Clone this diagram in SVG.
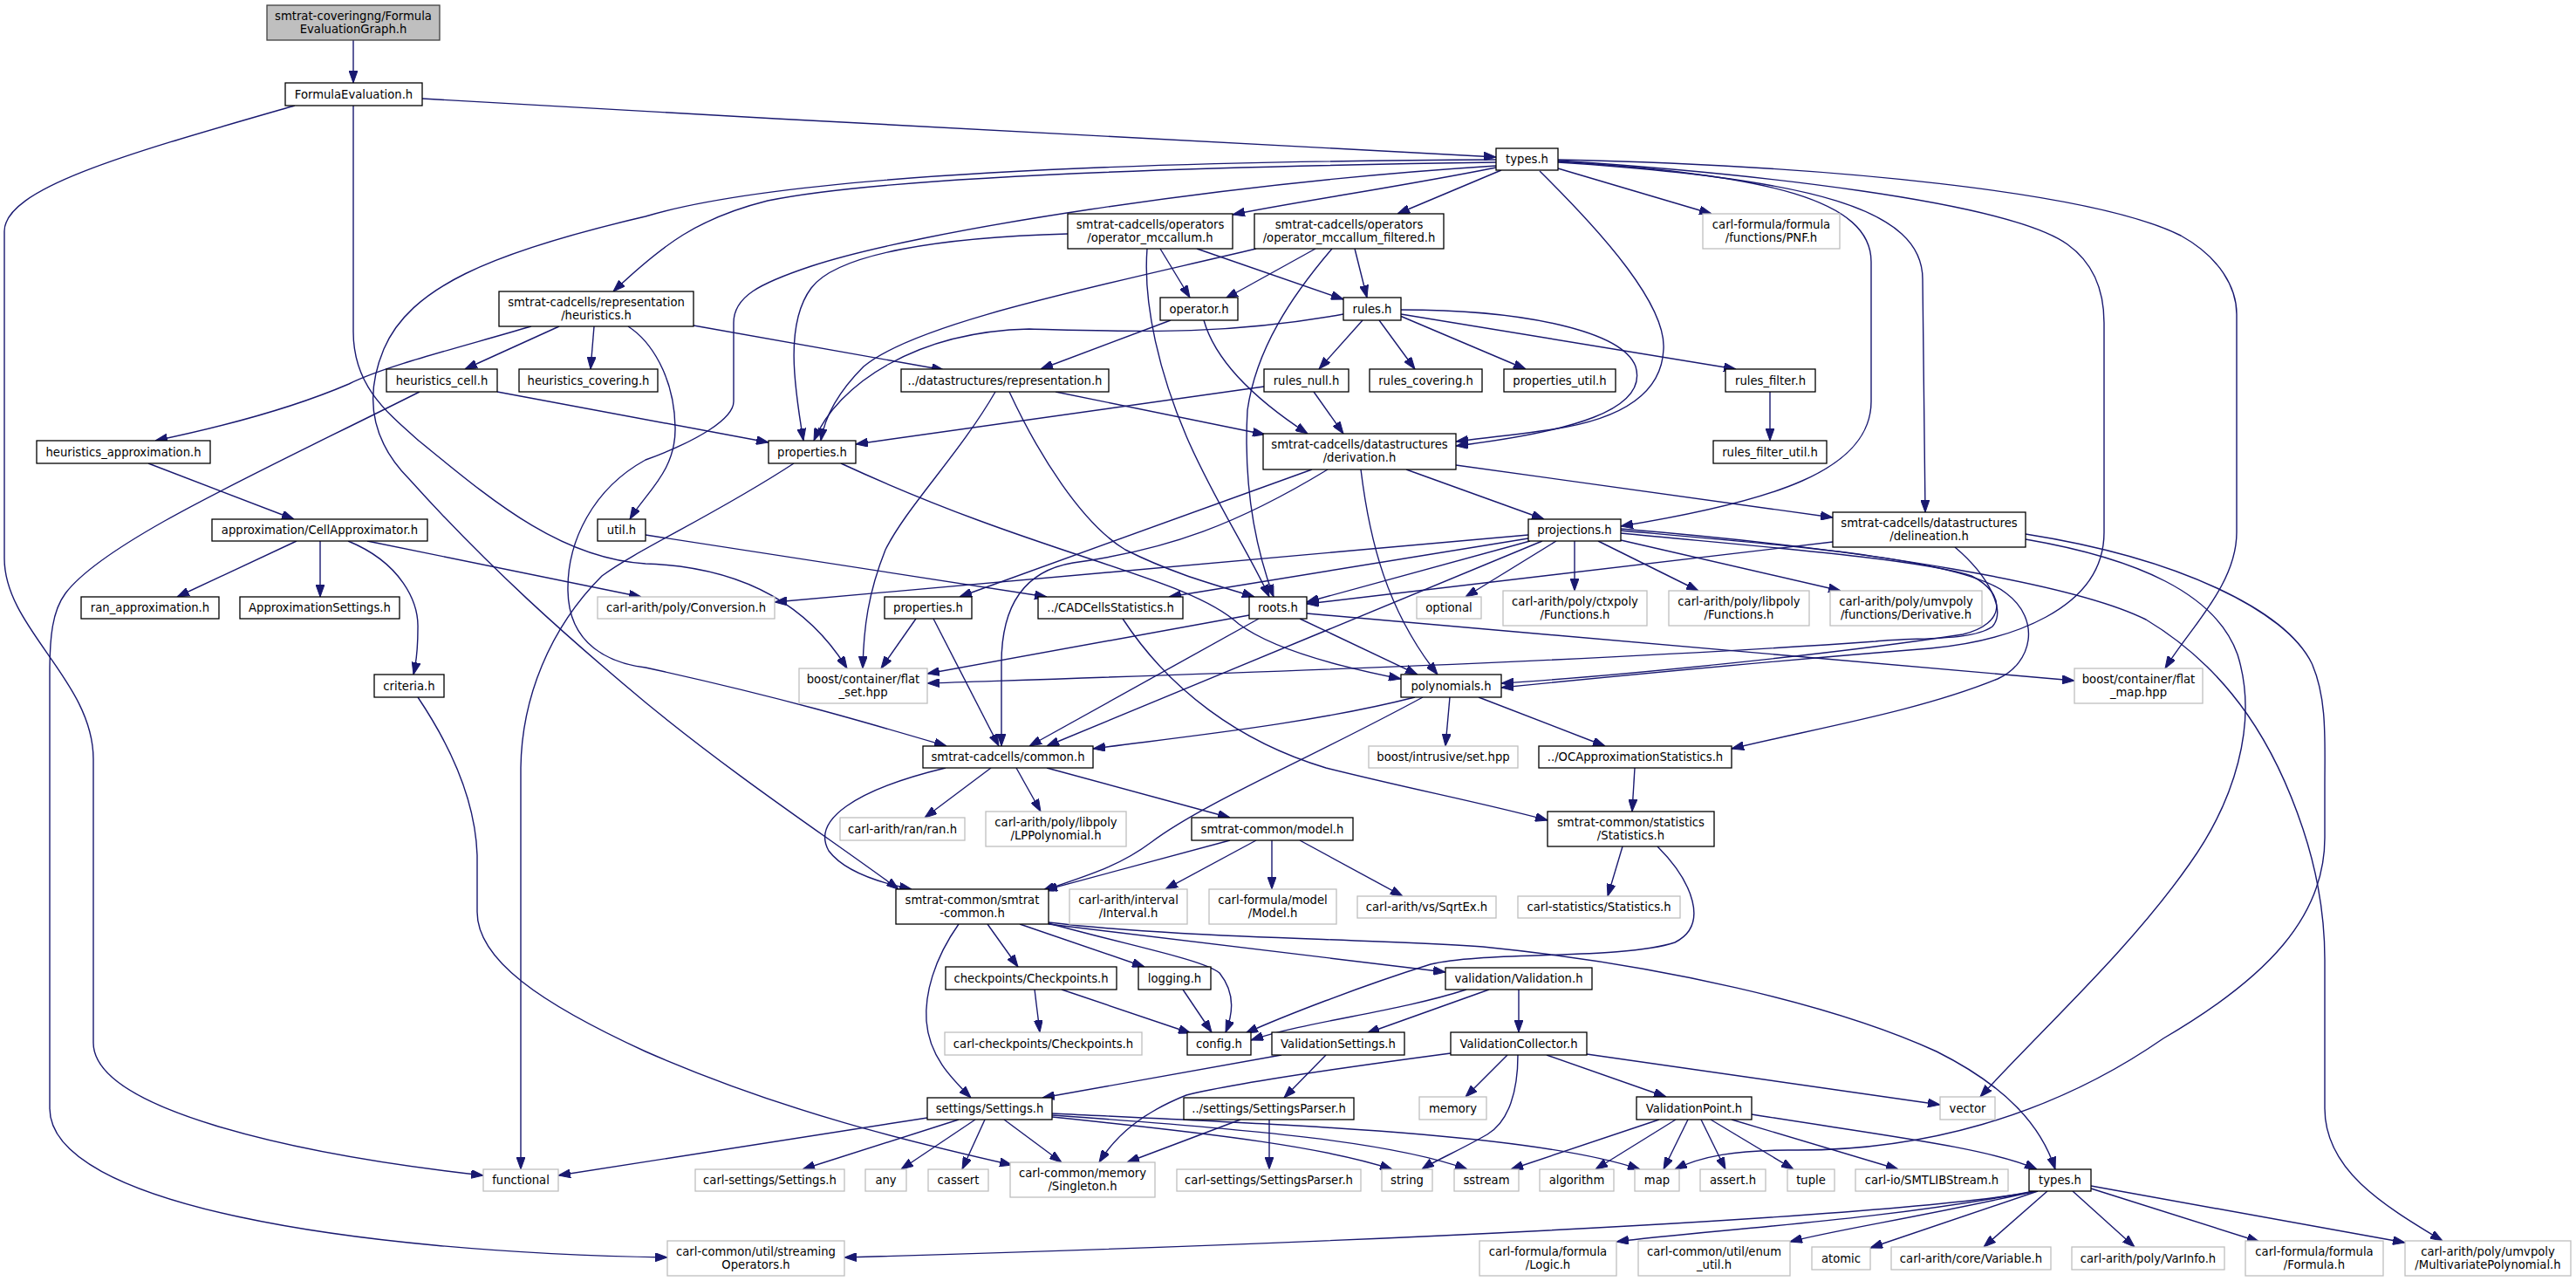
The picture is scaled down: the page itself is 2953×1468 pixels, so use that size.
<svg xmlns="http://www.w3.org/2000/svg" width="2953" height="1468" viewBox="0 0 2953 1468">
<defs>
<marker id="ah" markerWidth="14" markerHeight="10" refX="14" refY="5" orient="auto" markerUnits="userSpaceOnUse"><path d="M0,0 L14,5 L0,10 z" fill="#191970" stroke="#191970" stroke-width="1"/></marker>
<style>
.d{fill:#fff;stroke:#000;stroke-width:1.3}
.x{fill:#fff;stroke:#bfbfbf;stroke-width:1.3}
.r{fill:#bfbfbf;stroke:#404040;stroke-width:1.3}
text{font-family:"DejaVu Sans","Liberation Sans",sans-serif;font-size:13.2px;text-anchor:middle;fill:#000}
#edges path{fill:none;stroke:#191970;stroke-width:1.4;marker-end:url(#ah)}
</style>
</defs>
<rect width="2953" height="1468" fill="#fff"/>
<g id="edges">
<path d="M405,46 L405,95"/>
<path d="M484,113 C900,138 1400,162 1715,180"/>
<path d="M338,121 C150,175 5,215 5,265 L5,640 C5,720 107,780 107,870 L107,1195 C107,1270 330,1322 554,1347"/>
<path d="M405,121 L405,380 C405,440 440,470 480,505 C560,570 640,640 740,646 C860,650 930,700 971,766"/>
<path d="M1715,192 C1600,215 1480,232 1413,246"/>
<path d="M1715,186 C1300,192 1000,205 880,230 C800,250 760,280 703,334"/>
<path d="M1715,183 C1300,185 900,200 740,248 C560,290 470,330 440,400 C415,460 430,510 470,550 C560,650 650,730 740,805 C850,895 950,960 1030,1019"/>
<path d="M1715,190 C1400,210 1050,265 930,305 C870,325 841,340 841,370 L841,460 C841,480 800,505 740,527 C680,560 650,620 651,677 C652,740 700,760 740,765 C900,800 1000,830 1085,855"/>
<path d="M1721,195 L1602,245"/>
<path d="M1786,193 L1962,245"/>
<path d="M1765,196 C1840,270 1910,350 1907,400 C1905,450 1860,480 1780,492 C1740,498 1700,502 1669,506"/>
<path d="M1606,355 C1750,355 1860,380 1875,420 C1890,470 1800,495 1669,511"/>
<path d="M1786,183 C2100,190 2400,220 2500,270 C2545,295 2564,330 2564,360 L2564,610 C2564,670 2510,720 2482,766"/>
<path d="M1786,184 C2000,198 2300,230 2370,280 C2405,305 2412,340 2412,370 L2412,610 C2412,700 2300,735 2213,743 C2000,760 1850,775 1721,788"/>
<path d="M1786,185 C2030,200 2145,230 2145,300 L2145,460 C2145,540 2030,575 1858,603"/>
<path d="M1786,186 C2080,205 2204,240 2204,320 L2207,587"/>
<path d="M1330,285 L1364,341"/>
<path d="M1372,285 L1540,343"/>
<path d="M1224,268 C1080,272 960,290 930,330 C900,370 910,440 921,505"/>
<path d="M1315,285 C1310,350 1330,430 1360,500 C1390,570 1430,630 1455,684"/>
<path d="M1508,285 L1405,342"/>
<path d="M1553,285 L1567,341"/>
<path d="M1440,285 C1250,330 1050,370 990,420 C960,450 945,480 941,505"/>
<path d="M1527,285 C1480,340 1440,400 1430,470 C1425,560 1440,630 1460,684"/>
<path d="M1342,367 L1193,423"/>
<path d="M1380,367 C1395,420 1450,465 1499,497"/>
<path d="M1562,367 L1512,423"/>
<path d="M1581,367 L1622,423"/>
<path d="M1605,362 L1749,423"/>
<path d="M1606,360 L1990,423"/>
<path d="M1540,360 C1400,385 1300,380 1180,377 C1050,380 960,440 933,505"/>
<path d="M1449,443 L981,509"/>
<path d="M1506,449 L1540,497"/>
<path d="M2029,449 L2029,505"/>
<path d="M1210,449 L1450,498"/>
<path d="M1157,449 C1190,520 1240,600 1290,630 C1350,660 1400,672 1438,684"/>
<path d="M1141,449 C1100,520 1040,580 1015,630 C995,680 990,720 989,766"/>
<path d="M609,374 C520,400 440,420 400,440 C330,470 250,490 178,505"/>
<path d="M641,374 L533,423"/>
<path d="M681,374 L677,423"/>
<path d="M795,373 L1082,424"/>
<path d="M720,374 C745,390 773,430 774,490 C775,540 740,565 722,595"/>
<path d="M570,449 L881,507"/>
<path d="M481,449 C300,540 120,620 75,680 C60,700 57,730 57,770 L57,1270 C57,1380 400,1435 765,1441"/>
<path d="M170,531 L337,595"/>
<path d="M340,620 L203,684"/>
<path d="M367,620 L367,684"/>
<path d="M399,620 C460,645 480,690 479,720 C479,745 477,760 474,773"/>
<path d="M421,620 L735,684"/>
<path d="M740,613 L1200,684"/>
<path d="M910,531 C820,590 730,630 690,660 C630,720 598,800 597,880 L597,1340"/>
<path d="M964,531 C1200,640 1360,660 1420,715 C1460,745 1540,765 1606,778"/>
<path d="M1612,538 L1770,595"/>
<path d="M1669,533 L2101,593"/>
<path d="M1560,538 C1570,620 1590,700 1648,773"/>
<path d="M1504,538 L1100,684"/>
<path d="M1522,538 C1420,600 1340,630 1230,645 C1170,655 1148,700 1148,760 L1148,855"/>
<path d="M1754,620 L1498,690"/>
<path d="M1752,613 L888,690"/>
<path d="M1752,617 L1340,684"/>
<path d="M1768,620 L1200,855"/>
<path d="M1784,620 L1680,684"/>
<path d="M1805,620 L1805,677"/>
<path d="M1832,620 L1947,677"/>
<path d="M1858,619 L2110,677"/>
<path d="M1858,611 C2000,625 2200,640 2260,660 C2300,680 2300,715 2250,727 C2100,750 1850,775 1721,783"/>
<path d="M1858,608 C2050,625 2250,640 2300,680 C2340,710 2330,760 2290,778 C2200,815 2080,835 1985,858"/>
<path d="M1858,606 C2150,630 2380,670 2460,710 C2560,770 2610,860 2640,950 C2660,1010 2665,1060 2665,1100 L2665,1270 C2665,1340 2730,1380 2800,1422"/>
<path d="M2241,627 C2280,660 2300,700 2284,718 C2260,735 2200,730 2150,735 C1800,760 1300,775 1063,783"/>
<path d="M2101,621 L1498,692"/>
<path d="M2322,618 C2450,640 2540,680 2565,750 C2590,830 2560,920 2510,990 C2440,1090 2340,1180 2270,1257"/>
<path d="M2322,612 C2500,640 2620,700 2650,760 C2668,800 2665,850 2665,900 L2665,960 C2665,1050 2600,1120 2480,1190 C2350,1280 2200,1320 2050,1318 C1990,1318 1950,1325 1920,1340"/>
<path d="M1432,705 L1063,772"/>
<path d="M1443,709 L1180,855"/>
<path d="M1490,709 L1625,773"/>
<path d="M1498,703 L2378,780"/>
<path d="M1050,709 L1010,766"/>
<path d="M1070,709 L1145,855"/>
<path d="M1287,709 C1340,790 1420,850 1520,880 C1620,905 1700,920 1774,940"/>
<path d="M1662,799 L1657,855"/>
<path d="M1695,799 L1840,855"/>
<path d="M1622,799 C1500,830 1350,845 1253,858"/>
<path d="M1631,799 C1500,870 1380,920 1320,965 C1280,995 1240,1005 1195,1021"/>
<path d="M1136,880 L1060,937"/>
<path d="M1165,880 L1193,930"/>
<path d="M1200,880 L1410,937"/>
<path d="M1084,880 C980,905 930,940 950,975 C965,995 1000,1010 1045,1019"/>
<path d="M1410,963 L1198,1020"/>
<path d="M1440,963 L1336,1019"/>
<path d="M1458,963 L1458,1019"/>
<path d="M1490,963 L1608,1027"/>
<path d="M1874,880 L1871,930"/>
<path d="M1860,970 L1843,1027"/>
<path d="M1900,970 C1940,1010 1960,1060 1920,1080 C1860,1100 1700,1090 1640,1105 C1560,1130 1470,1165 1428,1184"/>
<path d="M1099,1059 C1070,1100 1060,1140 1062,1170 C1065,1210 1090,1235 1113,1258"/>
<path d="M1132,1059 L1167,1108"/>
<path d="M1169,1059 L1312,1108"/>
<path d="M1202,1058 C1300,1085 1380,1100 1398,1115 C1418,1140 1412,1165 1405,1183"/>
<path d="M1202,1059 L1657,1114"/>
<path d="M1202,1057 C1350,1075 1550,1075 1700,1085 C1900,1105 2100,1150 2220,1205 C2300,1245 2340,1290 2356,1340"/>
<path d="M1186,1134 L1192,1183"/>
<path d="M1217,1134 L1365,1184"/>
<path d="M1356,1134 L1389,1183"/>
<path d="M1681,1134 C1600,1160 1500,1170 1434,1192"/>
<path d="M1707,1134 L1567,1184"/>
<path d="M1741,1134 L1741,1183"/>
<path d="M1469,1209 L1195,1258"/>
<path d="M1520,1209 L1472,1258"/>
<path d="M1663,1207 C1550,1222 1420,1240 1360,1255 C1310,1275 1280,1300 1260,1332"/>
<path d="M1728,1209 L1680,1257"/>
<path d="M1740,1209 C1740,1250 1730,1285 1705,1300 C1670,1320 1645,1330 1630,1340"/>
<path d="M1773,1209 L1910,1257"/>
<path d="M1819,1208 L2224,1266"/>
<path d="M1902,1283 L1732,1340"/>
<path d="M1921,1283 L1829,1340"/>
<path d="M1935,1283 L1907,1340"/>
<path d="M1950,1283 L1978,1340"/>
<path d="M1961,1283 L2056,1340"/>
<path d="M1985,1283 L2176,1340"/>
<path d="M2008,1277 C2150,1300 2280,1315 2335,1340"/>
<path d="M1063,1281 L640,1347"/>
<path d="M1099,1283 L920,1340"/>
<path d="M1118,1283 L1033,1340"/>
<path d="M1129,1283 L1103,1340"/>
<path d="M1151,1283 L1217,1332"/>
<path d="M1206,1280 C1400,1300 1520,1315 1596,1340"/>
<path d="M1206,1278 C1450,1295 1600,1310 1682,1340"/>
<path d="M1206,1276 C1500,1290 1760,1300 1880,1340"/>
<path d="M1422,1283 L1292,1332"/>
<path d="M1455,1283 L1455,1340"/>
<path d="M479,799 C520,860 545,920 547,980 L547,1045 C547,1100 620,1150 740,1205 C900,1275 1050,1310 1160,1335"/>
<path d="M2336,1365 C2200,1390 1700,1420 968,1441"/>
<path d="M2332,1365 C2150,1400 1950,1410 1853,1423"/>
<path d="M2334,1365 C2200,1395 2100,1410 2052,1423"/>
<path d="M2336,1365 L2144,1430"/>
<path d="M2347,1365 L2274,1429"/>
<path d="M2376,1365 L2447,1429"/>
<path d="M2397,1362 L2590,1423"/>
<path d="M2397,1359 L2757,1424"/>
</g>
<g id="n1"><rect class="r" x="306" y="6" width="198" height="40"/><text x="405" y="22.5">smtrat-coveringng/Formula</text><text x="405" y="37.5">EvaluationGraph.h</text></g>
<g id="n2"><rect class="d" x="327" y="95" width="157" height="26"/><text x="405.5" y="112.8">FormulaEvaluation.h</text></g>
<g id="n3"><rect class="d" x="1715" y="170" width="71" height="25"/><text x="1750.5" y="187.3">types.h</text></g>
<g id="n4"><rect class="x" x="554" y="1340" width="86" height="25"/><text x="597" y="1357.3">functional</text></g>
<g id="n5"><rect class="x" x="916" y="766" width="147" height="40"/><text x="989.5" y="782.5">boost/container/flat</text><text x="989.5" y="797.5">_set.hpp</text></g>
<g id="n6"><rect class="d" x="572" y="334" width="223" height="40"/><text x="683.5" y="350.5">smtrat-cadcells/representation</text><text x="683.5" y="365.5">/heuristics.h</text></g>
<g id="n7"><rect class="d" x="1224" y="245" width="189" height="40"/><text x="1318.5" y="261.5">smtrat-cadcells/operators</text><text x="1318.5" y="276.5">/operator_mccallum.h</text></g>
<g id="n8"><rect class="d" x="1438" y="245" width="217" height="40"/><text x="1546.5" y="261.5">smtrat-cadcells/operators</text><text x="1546.5" y="276.5">/operator_mccallum_filtered.h</text></g>
<g id="n9"><rect class="x" x="1952" y="245" width="157" height="40"/><text x="2030.5" y="261.5">carl-formula/formula</text><text x="2030.5" y="276.5">/functions/PNF.h</text></g>
<g id="n10"><rect class="d" x="1330" y="341" width="89" height="26"/><text x="1374.5" y="358.8">operator.h</text></g>
<g id="n11"><rect class="d" x="1540" y="341" width="66" height="26"/><text x="1573" y="358.8">rules.h</text></g>
<g id="n12"><rect class="d" x="443" y="423" width="127" height="26"/><text x="506.5" y="440.8">heuristics_cell.h</text></g>
<g id="n13"><rect class="d" x="595" y="423" width="159" height="26"/><text x="674.5" y="440.8">heuristics_covering.h</text></g>
<g id="n14"><rect class="d" x="1033" y="423" width="238" height="26"/><text x="1152" y="440.8">../datastructures/representation.h</text></g>
<g id="n15"><rect class="d" x="1449" y="423" width="97" height="26"/><text x="1497.5" y="440.8">rules_null.h</text></g>
<g id="n16"><rect class="d" x="1570" y="423" width="129" height="26"/><text x="1634.5" y="440.8">rules_covering.h</text></g>
<g id="n17"><rect class="d" x="1724" y="423" width="128" height="26"/><text x="1788" y="440.8">properties_util.h</text></g>
<g id="n18"><rect class="d" x="1978" y="423" width="103" height="26"/><text x="2029.5" y="440.8">rules_filter.h</text></g>
<g id="n19"><rect class="d" x="42" y="505" width="199" height="26"/><text x="141.5" y="522.8">heuristics_approximation.h</text></g>
<g id="n20"><rect class="d" x="881" y="505" width="100" height="26"/><text x="931" y="522.8">properties.h</text></g>
<g id="n21"><rect class="d" x="1448" y="497" width="221" height="41"/><text x="1558.5" y="513.5">smtrat-cadcells/datastructures</text><text x="1558.5" y="528.5">/derivation.h</text></g>
<g id="n22"><rect class="d" x="1964" y="505" width="130" height="26"/><text x="2029" y="522.8">rules_filter_util.h</text></g>
<g id="n23"><rect class="d" x="243" y="595" width="247" height="25"/><text x="366.5" y="612.3">approximation/CellApproximator.h</text></g>
<g id="n24"><rect class="d" x="685" y="595" width="55" height="25"/><text x="712.5" y="612.3">util.h</text></g>
<g id="n25"><rect class="d" x="1752" y="595" width="106" height="25"/><text x="1805" y="612.3">projections.h</text></g>
<g id="n26"><rect class="d" x="2101" y="587" width="221" height="40"/><text x="2211.5" y="603.5">smtrat-cadcells/datastructures</text><text x="2211.5" y="618.5">/delineation.h</text></g>
<g id="n27"><rect class="d" x="93" y="684" width="158" height="25"/><text x="172" y="701.3">ran_approximation.h</text></g>
<g id="n28"><rect class="d" x="275" y="684" width="183" height="25"/><text x="366.5" y="701.3">ApproximationSettings.h</text></g>
<g id="n29"><rect class="x" x="685" y="684" width="203" height="25"/><text x="786.5" y="701.3">carl-arith/poly/Conversion.h</text></g>
<g id="n30"><rect class="d" x="1014" y="684" width="100" height="25"/><text x="1064" y="701.3">properties.h</text></g>
<g id="n31"><rect class="d" x="1190" y="684" width="166" height="25"/><text x="1273" y="701.3">../CADCellsStatistics.h</text></g>
<g id="n32"><rect class="d" x="1432" y="684" width="66" height="25"/><text x="1465" y="701.3">roots.h</text></g>
<g id="n33"><rect class="x" x="1624" y="684" width="74" height="25"/><text x="1661" y="701.3">optional</text></g>
<g id="n34"><rect class="x" x="1723" y="677" width="165" height="40"/><text x="1805.5" y="693.5">carl-arith/poly/ctxpoly</text><text x="1805.5" y="708.5">/Functions.h</text></g>
<g id="n35"><rect class="x" x="1913" y="677" width="161" height="40"/><text x="1993.5" y="693.5">carl-arith/poly/libpoly</text><text x="1993.5" y="708.5">/Functions.h</text></g>
<g id="n36"><rect class="x" x="2098" y="677" width="174" height="40"/><text x="2185" y="693.5">carl-arith/poly/umvpoly</text><text x="2185" y="708.5">/functions/Derivative.h</text></g>
<g id="n37"><rect class="d" x="429" y="773" width="80" height="26"/><text x="469" y="790.8">criteria.h</text></g>
<g id="n38"><rect class="d" x="1606" y="773" width="115" height="26"/><text x="1663.5" y="790.8">polynomials.h</text></g>
<g id="n39"><rect class="x" x="2378" y="766" width="147" height="40"/><text x="2451.5" y="782.5">boost/container/flat</text><text x="2451.5" y="797.5">_map.hpp</text></g>
<g id="n40"><rect class="d" x="1058" y="855" width="195" height="25"/><text x="1155.5" y="872.3">smtrat-cadcells/common.h</text></g>
<g id="n41"><rect class="x" x="1569" y="855" width="171" height="25"/><text x="1654.5" y="872.3">boost/intrusive/set.hpp</text></g>
<g id="n42"><rect class="d" x="1764" y="855" width="221" height="25"/><text x="1874.5" y="872.3">../OCApproximationStatistics.h</text></g>
<g id="n43"><rect class="x" x="963" y="937" width="143" height="26"/><text x="1034.5" y="954.8">carl-arith/ran/ran.h</text></g>
<g id="n44"><rect class="x" x="1130" y="930" width="161" height="40"/><text x="1210.5" y="946.5">carl-arith/poly/libpoly</text><text x="1210.5" y="961.5">/LPPolynomial.h</text></g>
<g id="n45"><rect class="d" x="1366" y="937" width="185" height="26"/><text x="1458.5" y="954.8">smtrat-common/model.h</text></g>
<g id="n46"><rect class="d" x="1774" y="930" width="191" height="40"/><text x="1869.5" y="946.5">smtrat-common/statistics</text><text x="1869.5" y="961.5">/Statistics.h</text></g>
<g id="n47"><rect class="d" x="1027" y="1019" width="175" height="40"/><text x="1114.5" y="1035.5">smtrat-common/smtrat</text><text x="1114.5" y="1050.5">-common.h</text></g>
<g id="n48"><rect class="x" x="1226" y="1019" width="135" height="40"/><text x="1293.5" y="1035.5">carl-arith/interval</text><text x="1293.5" y="1050.5">/Interval.h</text></g>
<g id="n49"><rect class="x" x="1386" y="1019" width="146" height="40"/><text x="1459" y="1035.5">carl-formula/model</text><text x="1459" y="1050.5">/Model.h</text></g>
<g id="n50"><rect class="x" x="1556" y="1027" width="159" height="25"/><text x="1635.5" y="1044.3">carl-arith/vs/SqrtEx.h</text></g>
<g id="n51"><rect class="x" x="1740" y="1027" width="186" height="25"/><text x="1833" y="1044.3">carl-statistics/Statistics.h</text></g>
<g id="n52"><rect class="d" x="1084" y="1108" width="196" height="26"/><text x="1182" y="1125.8">checkpoints/Checkpoints.h</text></g>
<g id="n53"><rect class="d" x="1305" y="1108" width="83" height="26"/><text x="1346.5" y="1125.8">logging.h</text></g>
<g id="n54"><rect class="d" x="1657" y="1109" width="168" height="25"/><text x="1741" y="1126.3">validation/Validation.h</text></g>
<g id="n55"><rect class="x" x="1083" y="1183" width="226" height="26"/><text x="1196" y="1200.8">carl-checkpoints/Checkpoints.h</text></g>
<g id="n56"><rect class="d" x="1361" y="1183" width="73" height="26"/><text x="1397.5" y="1200.8">config.h</text></g>
<g id="n57"><rect class="d" x="1458" y="1183" width="152" height="26"/><text x="1534" y="1200.8">ValidationSettings.h</text></g>
<g id="n58"><rect class="d" x="1663" y="1183" width="156" height="26"/><text x="1741" y="1200.8">ValidationCollector.h</text></g>
<g id="n59"><rect class="x" x="2224" y="1257" width="63" height="26"/><text x="2255.5" y="1274.8">vector</text></g>
<g id="n60"><rect class="d" x="1063" y="1258" width="143" height="25"/><text x="1134.5" y="1275.3">settings/Settings.h</text></g>
<g id="n61"><rect class="d" x="1357" y="1258" width="195" height="25"/><text x="1454.5" y="1275.3">../settings/SettingsParser.h</text></g>
<g id="n62"><rect class="x" x="1627" y="1257" width="77" height="26"/><text x="1665.5" y="1274.8">memory</text></g>
<g id="n63"><rect class="d" x="1876" y="1257" width="132" height="26"/><text x="1942" y="1274.8">ValidationPoint.h</text></g>
<g id="n64"><rect class="x" x="797" y="1340" width="171" height="25"/><text x="882.5" y="1357.3">carl-settings/Settings.h</text></g>
<g id="n65"><rect class="x" x="992" y="1340" width="47" height="25"/><text x="1015.5" y="1357.3">any</text></g>
<g id="n66"><rect class="x" x="1064" y="1340" width="69" height="25"/><text x="1098.5" y="1357.3">cassert</text></g>
<g id="n67"><rect class="x" x="1158" y="1332" width="166" height="40"/><text x="1241" y="1348.5">carl-common/memory</text><text x="1241" y="1363.5">/Singleton.h</text></g>
<g id="n68"><rect class="x" x="1349" y="1340" width="211" height="25"/><text x="1454.5" y="1357.3">carl-settings/SettingsParser.h</text></g>
<g id="n69"><rect class="x" x="1584" y="1340" width="58" height="25"/><text x="1613" y="1357.3">string</text></g>
<g id="n70"><rect class="x" x="1667" y="1340" width="74" height="25"/><text x="1704" y="1357.3">sstream</text></g>
<g id="n71"><rect class="x" x="1765" y="1340" width="85" height="25"/><text x="1807.5" y="1357.3">algorithm</text></g>
<g id="n72"><rect class="x" x="1874" y="1340" width="51" height="25"/><text x="1899.5" y="1357.3">map</text></g>
<g id="n73"><rect class="x" x="1949" y="1340" width="75" height="25"/><text x="1986.5" y="1357.3">assert.h</text></g>
<g id="n74"><rect class="x" x="2049" y="1340" width="54" height="25"/><text x="2076" y="1357.3">tuple</text></g>
<g id="n75"><rect class="x" x="2127" y="1340" width="175" height="25"/><text x="2214.5" y="1357.3">carl-io/SMTLIBStream.h</text></g>
<g id="n76"><rect class="d" x="2326" y="1340" width="71" height="25"/><text x="2361.5" y="1357.3">types.h</text></g>
<g id="n77"><rect class="x" x="765" y="1422" width="203" height="40"/><text x="866.5" y="1438.5">carl-common/util/streaming</text><text x="866.5" y="1453.5">Operators.h</text></g>
<g id="n78"><rect class="x" x="1696" y="1422" width="157" height="40"/><text x="1774.5" y="1438.5">carl-formula/formula</text><text x="1774.5" y="1453.5">/Logic.h</text></g>
<g id="n79"><rect class="x" x="1878" y="1422" width="174" height="40"/><text x="1965" y="1438.5">carl-common/util/enum</text><text x="1965" y="1453.5">_util.h</text></g>
<g id="n80"><rect class="x" x="2077" y="1429" width="67" height="26"/><text x="2110.5" y="1446.8">atomic</text></g>
<g id="n81"><rect class="x" x="2168" y="1429" width="183" height="26"/><text x="2259.5" y="1446.8">carl-arith/core/Variable.h</text></g>
<g id="n82"><rect class="x" x="2375" y="1429" width="175" height="26"/><text x="2462.5" y="1446.8">carl-arith/poly/VarInfo.h</text></g>
<g id="n83"><rect class="x" x="2574" y="1422" width="158" height="40"/><text x="2653" y="1438.5">carl-formula/formula</text><text x="2653" y="1453.5">/Formula.h</text></g>
<g id="n84"><rect class="x" x="2757" y="1422" width="190" height="40"/><text x="2852" y="1438.5">carl-arith/poly/umvpoly</text><text x="2852" y="1453.5">/MultivariatePolynomial.h</text></g>
</svg>
